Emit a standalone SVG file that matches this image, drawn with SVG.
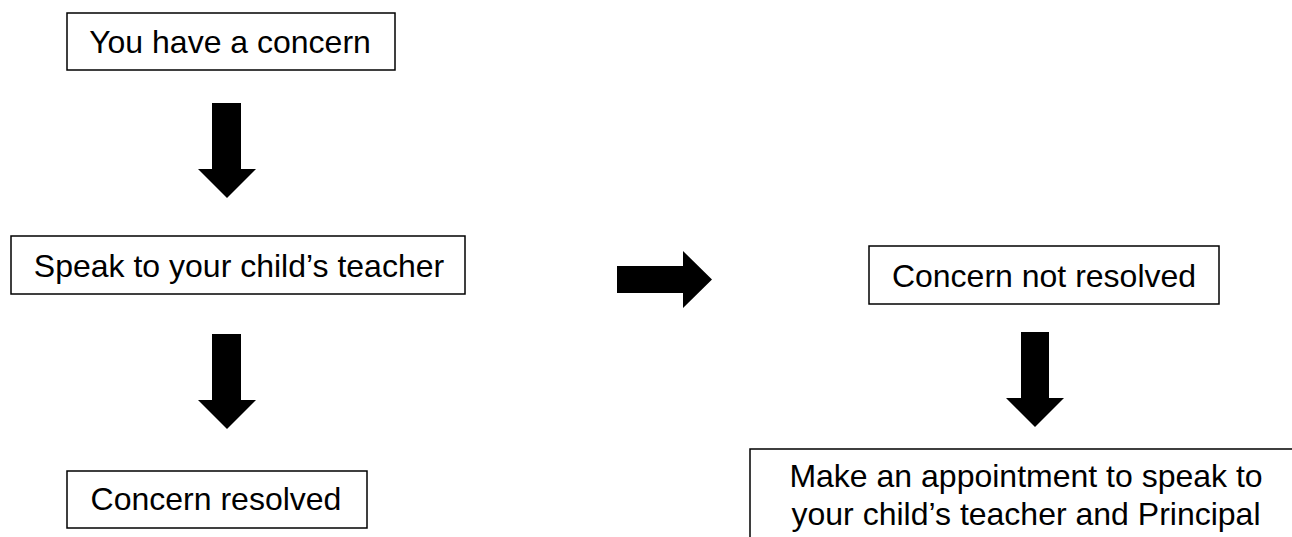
<svg xmlns="http://www.w3.org/2000/svg" width="1292" height="537" viewBox="0 0 1292 537">
<style>
.box{fill:#fff;stroke:#000;stroke-width:1.5}
.t{font-family:"Liberation Sans",Arial,sans-serif;font-size:32px;fill:#000;text-anchor:middle}
.arr{fill:#000}
</style>
<rect width="1292" height="537" fill="#fff"/>
<g id="connectors">
<polygon class="arr" points="212,103 241,103 241,169 256,169 227,198 198,169 212,169"/>
<polygon class="arr" points="212,334 241,334 241,400 256,400 227,429 198,400 212,400"/>
<polygon class="arr" points="617,266 683,266 683,251 712,279.5 683,308 683,293 617,293"/>
<polygon class="arr" points="1021,332 1049,332 1049,398 1064,398 1035,427 1006,398 1021,398"/>
</g>
<g id="n1">
<rect class="box" x="67" y="13" width="328" height="57"/>
<text class="t" x="230" y="53">You have a concern</text>
</g>
<g id="n2">
<rect class="box" x="11" y="236" width="454" height="58"/>
<text class="t" x="239" y="277">Speak to your child’s teacher</text>
</g>
<g id="n3">
<rect class="box" x="67" y="471" width="300" height="57"/>
<text class="t" x="216" y="510">Concern resolved</text>
</g>
<g id="n4">
<rect class="box" x="869" y="246" width="350" height="58"/>
<text class="t" x="1044" y="287">Concern not resolved</text>
</g>
<g id="n5">
<rect class="box" x="750" y="449" width="600" height="120"/>
<text class="t" x="1026" y="487">Make an appointment to speak to</text>
<text class="t" x="1026" y="525">your child’s teacher and Principal</text>
</g>
</svg>
